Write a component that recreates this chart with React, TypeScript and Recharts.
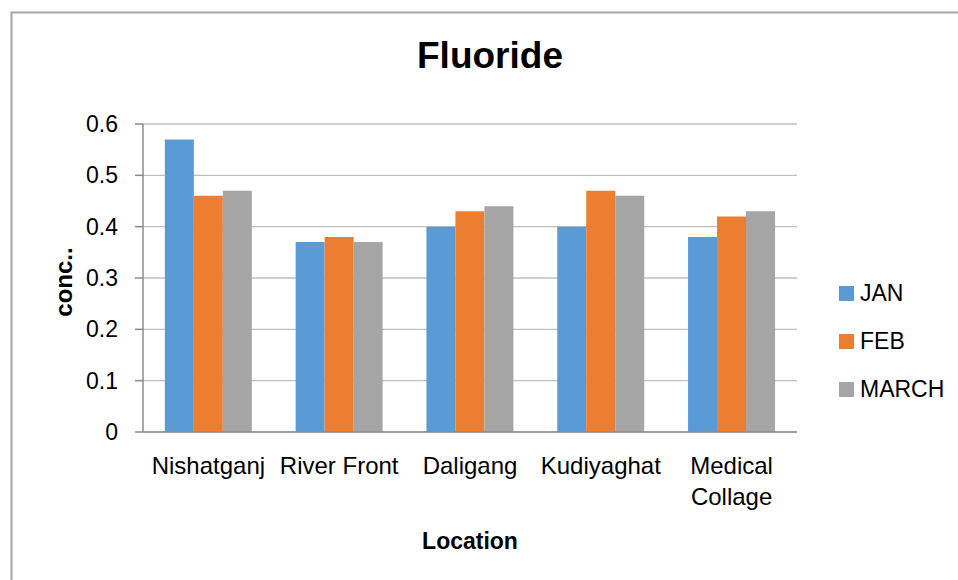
import React from 'react';
import { BarChart, Bar, XAxis, YAxis, CartesianGrid } from 'recharts';

const categories = ['Nishatganj', 'River Front', 'Daligang', 'Kudiyaghat', 'Medical Collage'];
const janValues = [0.57, 0.37, 0.40, 0.40, 0.38];
const febValues = [0.46, 0.38, 0.43, 0.47, 0.42];
const marchValues = [0.47, 0.37, 0.44, 0.46, 0.43];
const seriesNames = ['JAN', 'FEB', 'MARCH'];
const seriesColors = ['#5b9bd5', '#ed7d31', '#a5a5a5'];
const yTicks = [0, 0.1, 0.2, 0.3, 0.4, 0.5, 0.6];
const yTickLabels = ['0', '0.1', '0.2', '0.3', '0.4', '0.5', '0.6'];

const FONT = '"Liberation Sans", Arial, sans-serif';

const data = categories.map((c, i) => ({
  name: c,
  JAN: janValues[i],
  FEB: febValues[i],
  MARCH: marchValues[i],
}));

const MAX_CHARS = 12;

const CatTick = (props: any) => {
  const { x, y, payload } = props;
  const label: string = String(payload.value);
  const lines = label.length > MAX_CHARS ? label.split(' ') : [label];
  return (
    <text x={x} y={y} textAnchor="middle" fontSize={24} fontFamily={FONT} fill="#000">
      {lines.map((ln, i) => (
        <tspan key={i} x={x} dy={i === 0 ? '0.71em' : 31}>
          {ln}
        </tspan>
      ))}
    </text>
  );
};

export default function App() {
  return (
    <div style={{ position: 'absolute', left: 0, top: 0, width: 958, height: 580, background: '#fff', fontFamily: FONT }}>
      <BarChart
        width={958}
        height={580}
        data={data}
        margin={{ top: 124, right: 161, bottom: 88, left: 83 }}
        barCategoryGap="16.7%"
        barGap={0}
      >
        <CartesianGrid vertical={false} stroke="#bfbfbf" strokeWidth={1.3} />
        <XAxis
          dataKey="name"
          height={60}
          tickLine={false}
          tickSize={0}
          tickMargin={25}
          axisLine={{ stroke: '#8c8c8c', strokeWidth: 1.5 }}
          tick={<CatTick />}
          interval={0}
        />
        <YAxis
          width={60}
          domain={[0, 0.6]}
          ticks={yTicks}
          tickFormatter={(v: number) => yTickLabels[yTicks.indexOf(v)] ?? String(v)}
          tickSize={8}
          tickMargin={17}
          tickLine={{ stroke: '#8c8c8c', strokeWidth: 1.5 }}
          axisLine={{ stroke: '#8c8c8c', strokeWidth: 1.5 }}
          tick={{ fill: '#000', fontSize: 23, fontFamily: FONT }}
          allowDecimals
        />
        {seriesNames.map((s, i) => (
          <Bar key={s} dataKey={s} fill={seriesColors[i]} isAnimationActive={false} />
        ))}
      </BarChart>
      <svg
        width={958}
        height={580}
        style={{ position: 'absolute', left: 0, top: 0, pointerEvents: 'none' }}
      >
        <path d="M11.5,580 V12.5 H958" fill="none" stroke="#a6a6a6" strokeWidth={2} />
        <text x={490} y={68} textAnchor="middle" fontSize={37} fontWeight="bold" fontFamily={FONT} fill="#000">
          Fluoride
        </text>
        <text
          x={72}
          y={282}
          textAnchor="middle"
          fontSize={24}
          fontWeight="bold"
          fontFamily={FONT}
          fill="#000"
          transform="rotate(-90 72 282)"
        >
          conc..
        </text>
        <text x={470} y={549} textAnchor="middle" fontSize={23} fontWeight="bold" fontFamily={FONT} fill="#000">
          Location
        </text>
      </svg>
      <div style={{ position: 'absolute', left: 839, top: 269 }}>
        {seriesNames.map((s, i) => (
          <div key={s} style={{ display: 'flex', alignItems: 'center', height: 48 }}>
            <div style={{ width: 15, height: 15, background: seriesColors[i], marginRight: 6 }} />
            <span style={{ fontSize: 23, color: '#000', fontFamily: FONT, lineHeight: '23px' }}>{s}</span>
          </div>
        ))}
      </div>
    </div>
  );
}
